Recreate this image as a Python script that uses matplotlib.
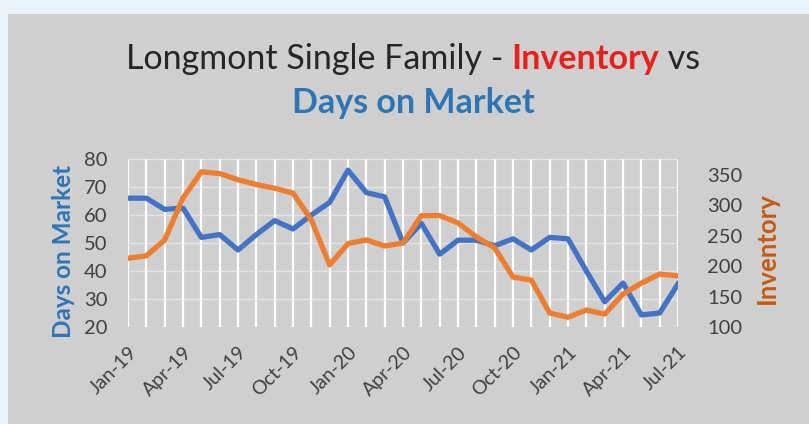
import matplotlib
matplotlib.use("Agg")
import matplotlib.pyplot as plt
from matplotlib.patches import Rectangle

# months Jan-19 .. Jul-21
months = list(range(31))
tick_labels = ["Jan-19", "Apr-19", "Jul-19", "Oct-19", "Jan-20", "Apr-20",
               "Jul-20", "Oct-20", "Jan-21", "Apr-21", "Jul-21"]

days_on_market = [66, 66, 62, 62.5, 52, 53, 47.5, 53, 58, 55, 60, 64.5, 76, 68, 66.5,
                  50, 57, 46, 51, 51, 49, 51.5, 47.5, 52, 51.5, 40, 29, 35.7, 24.3, 25, 35.4]
inventory = [213, 217, 243, 312, 355, 352, 342, 334, 328, 320, 276, 202, 237, 243, 233,
             238, 283, 283, 271, 248, 230, 182, 177, 123, 116, 128, 121, 154, 172, 187, 184]

blue = "#4472c4"
orange = "#ed7d31"
tick_col = "#404040"
font = "Lato"

W, H, dpi = 809, 424, 100
fig = plt.figure(figsize=(W / dpi, H / dpi), dpi=dpi)
fig.patch.set_facecolor("#eaf2fb")
fig.patches.append(Rectangle((8 / W, 0), 1, 1 - 14 / H, transform=fig.transFigure,
                             facecolor="#d0cfcf", edgecolor="none", zorder=-10))

ax = fig.add_axes([128 / W, 1 - 327 / H, 550 / W, 168 / H])
ax.set_facecolor("none")
ax.set_xlim(0, 30)
ax.set_ylim(20, 80)
ax.set_yticks(range(20, 81, 10))
ax.set_xticks(months, minor=True)
ax.set_xticks(range(0, 31, 3))
ax.set_xticklabels(tick_labels, rotation=45, ha="right", rotation_mode="anchor",
                   fontsize=14, color=tick_col, family=font)
for lbl in ax.get_yticklabels():
    lbl.set_fontsize(14.5)
    lbl.set_color(tick_col)
    lbl.set_family(font)
ax.tick_params(axis="y", length=0, pad=15)
ax.tick_params(axis="x", which="both", length=0, pad=12)
ax.grid(True, which="both", axis="x", color="white", lw=1.6)
ax.grid(True, axis="y", color="#eeeeee", lw=1.0, alpha=0.7)
ax.set_axisbelow(True)
for s in ax.spines.values():
    s.set_visible(False)
ax.plot(months, days_on_market, color=blue, lw=3.8, zorder=3, solid_joinstyle="round")
ax.set_ylabel("Days on Market", color="#2e75b6", fontsize=17.5, fontweight="bold",
              family=font)
ax.yaxis.set_label_coords(-0.097, 0.45)

ax2 = ax.twinx()
ax2.set_ylim(100, 376)
ax2.set_yticks(range(100, 351, 50))
for lbl in ax2.get_yticklabels():
    lbl.set_fontsize(14.5)
    lbl.set_color(tick_col)
    lbl.set_family(font)
ax2.tick_params(length=0, pad=21)
for s in ax2.spines.values():
    s.set_visible(False)
ax2.plot(months, inventory, color=orange, lw=3.8, zorder=3, solid_joinstyle="round")
ax2.set_ylabel("Inventory", color="#c55a11", fontsize=18.5, fontweight="bold",
               family=font, rotation=90)
ax2.yaxis.set_label_coords(1.14, 0.47)

# title with mixed colours
r = fig.canvas.get_renderer()
parts = [("Longmont Single Family - ", "#262626", "normal"),
         ("Inventory", "#e8201c", "bold"),
         (" vs", "#262626", "normal")]
texts = []
for s, c, w in parts:
    texts.append(fig.text(0, 1 - 59 / H, s, color=c, fontweight=w, fontsize=24.5,
                          family=font, va="center", ha="left"))
widths = [t.get_window_extent(r).width for t in texts]
x = 413 - sum(widths) / 2
for t, w in zip(texts, widths):
    t.set_x(x / W)
    x += w
fig.text(413 / W, 1 - 103 / H, "Days on Market", color="#2e75b6", fontweight="bold",
         fontsize=24.5, family=font, ha="center", va="center")

fig.savefig("out.png", dpi=dpi)
